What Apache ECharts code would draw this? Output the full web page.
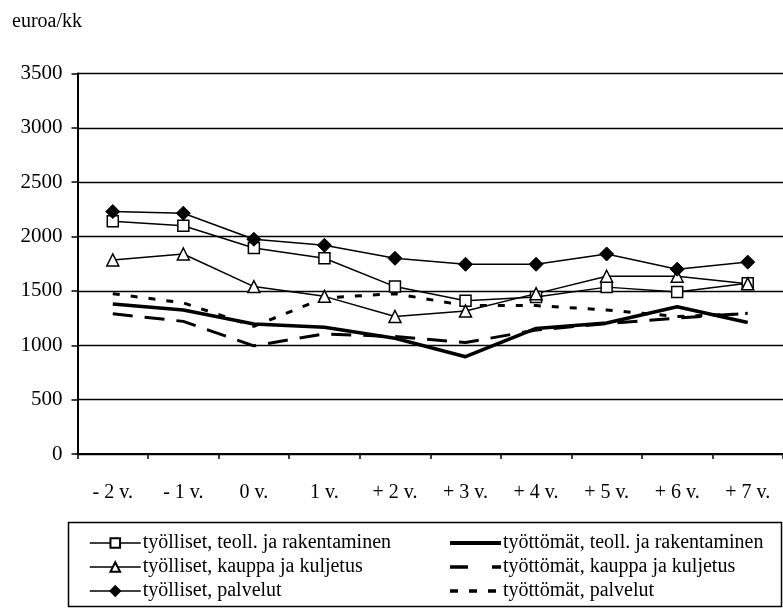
<!DOCTYPE html>
<html>
<head>
<meta charset="utf-8">
<script src="https://cdn.jsdelivr.net/npm/echarts@6/dist/echarts.min.js"></script>
<style>
html,body{margin:0;padding:0;background:#fff;}
#c{width:783px;height:608px;}
</style>
</head>
<body>
<div id="c"></div>
<script>
const categories = ["- 2 v.", "- 1 v.", "0 v.", "1 v.", "+ 2 v.", "+ 3 v.", "+ 4 v.", "+ 5 v.", "+ 6 v.", "+ 7 v."];
const tyollisetTeoll = [2140, 2100, 1895, 1800, 1540, 1410, 1445, 1535, 1490, 1570];
const tyollisetKauppa = [1785, 1840, 1540, 1450, 1265, 1315, 1475, 1635, 1635, 1565];
const tyollisetPalvelut = [2230, 2215, 1975, 1920, 1800, 1745, 1745, 1840, 1700, 1765];
const tyottomatTeoll = [1380, 1325, 1195, 1165, 1065, 895, 1155, 1205, 1355, 1210];
const tyottomatKauppa = [1290, 1220, 995, 1105, 1080, 1025, 1140, 1200, 1250, 1295];
const tyottomatPalvelut = [1475, 1390, 1175, 1435, 1475, 1365, 1365, 1325, 1265, 1290];
const yTicks = [0, 500, 1000, 1500, 2000, 2500, 3000, 3500];

const FONT = '"Liberation Serif", "Times New Roman", serif';
const chart = echarts.init(document.getElementById('c'), null, {renderer: 'canvas'});

const names = {
  a: 'työlliset, teoll. ja rakentaminen',
  b: 'työlliset, kauppa ja kuljetus',
  c: 'työlliset, palvelut',
  d: 'työttömät, teoll. ja rakentaminen',
  e: 'työttömät, kauppa ja kuljetus',
  f: 'työttömät, palvelut'
};
const hiddenSym = {opacity: 0, color: 'rgba(0,0,0,0)', borderColor: 'rgba(0,0,0,0)'};

const legendCommon = {
  orient: 'vertical', top: 533, height: 80, padding: 0,
  itemWidth: 51, itemHeight: 12, itemGap: 4,
  textStyle: {fontFamily: FONT, fontSize: 20, color: '#000', padding: [0, 0, 0, -3]}
};

chart.setOption({
  animation: false,
  backgroundColor: '#fff',
  textStyle: {fontFamily: FONT, color: '#000'},
  grid: {left: 77.5, right: -8.5, top: 73.5, bottom: 154, containLabel: false},
  graphic: [
    {type: 'text', left: 12, top: 12, style: {text: 'euroa/kk', font: '20px ' + FONT, fill: '#000'}},
    {type: 'rect', shape: {x: 68.5, y: 522.5, width: 713, height: 84}, style: {fill: 'none', stroke: '#000', lineWidth: 1.5}, z: 1}
  ],
  legend: [
    Object.assign({}, legendCommon, {left: 89, data: [
      {name: names.a, lineStyle: {width: 1.5}},
      {name: names.b, lineStyle: {width: 1.5}},
      {name: names.c, lineStyle: {width: 1.5}}
    ]}),
    Object.assign({}, legendCommon, {left: 448, data: [
      {name: names.d, itemStyle: hiddenSym, lineStyle: {width: 4, type: 'solid'}},
      {name: names.e, itemStyle: hiddenSym, lineStyle: {width: 3.5, type: [18, 24]}},
      {name: names.f, itemStyle: hiddenSym, lineStyle: {width: 3.5, type: [8, 11]}}
    ]})
  ],
  xAxis: {
    type: 'category', data: categories, boundaryGap: true,
    axisLine: {lineStyle: {color: '#000', width: 2}},
    axisTick: {show: true, inside: false, length: 5, lineStyle: {color: '#000', width: 1.5}},
    axisLabel: {fontFamily: FONT, fontSize: 20, color: '#000', margin: 29}
  },
  yAxis: {
    type: 'value', min: 0, max: 3500, interval: 500,
    axisLine: {show: true, lineStyle: {color: '#000', width: 2}},
    axisTick: {show: true, length: 6, lineStyle: {color: '#000', width: 1.5}},
    axisLabel: {fontFamily: FONT, fontSize: 21, color: '#000', margin: 15, formatter: v => String(v)},
    splitLine: {lineStyle: {color: '#000', width: 1.3}}
  },
  series: [
    {name: names.d, type: 'line', data: tyottomatTeoll, symbol: 'none', lineStyle: {color: '#000', width: 3.5}, itemStyle: {color: '#000'}},
    {name: names.e, type: 'line', data: tyottomatKauppa, symbol: 'none', lineStyle: {color: '#000', width: 3, type: [20, 12]}, itemStyle: {color: '#000'}},
    {name: names.f, type: 'line', data: tyottomatPalvelut, symbol: 'none', lineStyle: {color: '#000', width: 3, type: [7, 11]}, itemStyle: {color: '#000'}},
    {name: names.a, type: 'line', data: tyollisetTeoll, symbol: 'rect', symbolSize: 11, lineStyle: {color: '#000', width: 1.5}, itemStyle: {color: '#fff', borderColor: '#000', borderWidth: 1.5}},
    {name: names.b, type: 'line', data: tyollisetKauppa, symbol: 'triangle', symbolSize: 12, lineStyle: {color: '#000', width: 1.5}, itemStyle: {color: '#fff', borderColor: '#000', borderWidth: 1.5}},
    {name: names.c, type: 'line', data: tyollisetPalvelut, symbol: 'diamond', symbolSize: 14, lineStyle: {color: '#000', width: 1.5}, itemStyle: {color: '#000', borderColor: '#000', borderWidth: 1}}
  ]
});
</script>
</body>
</html>
